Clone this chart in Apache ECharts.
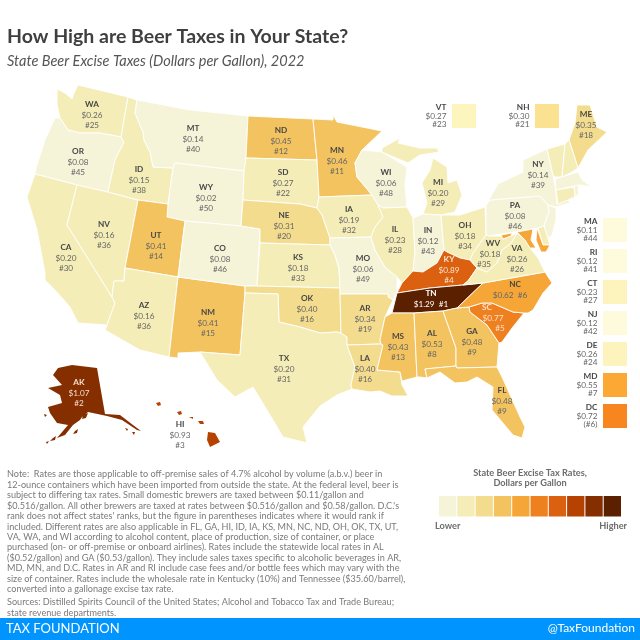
<!DOCTYPE html>
<html><head><meta charset="utf-8">
<style>html,body{margin:0;padding:0;background:#fff}#c{width:640px;height:640px}</style>
<script src="https://cdn.jsdelivr.net/npm/echarts@6/dist/echarts.min.js"></script>
</head><body><div id="c"></div>
<script>
const stateNames = ['WA','OR','CA','NV','ID','MT','WY','UT','AZ','NM','CO','ND','SD','NE','KS','OK','TX','MN','IA','MO','AR','LA','WI','IL','MI','IN','OH','KY','TN','MS','AL','GA','FL','SC','NC','VA','WV','PA','NY','ME','VT','NH','MA','RI','CT','NJ','DE','MD','AK','HI'];
const stateValues = [0.26,0.08,0.20,0.16,0.15,0.14,0.02,0.41,0.16,0.41,0.08,0.45,0.27,0.31,0.18,0.40,0.20,0.46,0.19,0.06,0.34,0.40,0.06,0.23,0.20,0.12,0.18,0.89,1.29,0.43,0.53,0.48,0.48,0.77,0.62,0.26,0.18,0.08,0.14,0.35,0.27,0.30,0.11,0.12,0.23,0.12,0.26,0.55,1.07,0.93];
const stateRanks = ['#25','#45','#30','#36','#38','#40','#50','#14','#36','#15','#46','#12','#22','#20','#33','#16','#31','#11','#32','#49','#19','#16','#48','#28','#29','#43','#34','#4','#1','#13','#8','#9','#9','#5','#6','#26','#35','#46','#39','#18','#23','#21','#44','#41','#27','#42','#24','#7','#2','#3'];
const boxNames = ['VT','NH','MA','RI','CT','NJ','DE','MD','DC'];
const boxValues = [0.27,0.30,0.11,0.12,0.23,0.12,0.26,0.55,0.72];
const boxRanks = ['#23','#21','#44','#41','#27','#42','#24','#7','(#6)'];
const boxColors = ['#FDF5BE','#FBE290','#FEFBDD','#FEFBDD','#FDF3BC','#FEFBDD','#FDF3BC','#FBA835','#F8861F'];
const legendBreaks = [0,0.14,0.30,0.40,0.54,0.70,0.85,0.90,1.00,1.20,1.40];
const legendColors = ['#F5F4D9','#F5EDB7','#F4DC8F','#F3C35F','#F5A637','#EF8020','#DB6010','#B54200','#852F00','#5A2000'];
const noteLines = [
"Note:  Rates are those applicable to off-premise sales of 4.7% alcohol by volume (a.b.v.) beer in",
"12-ounce containers which have been imported from outside the state. At the federal level, beer is",
"subject to differing tax rates. Small domestic brewers are taxed between $0.11/gallon and",
"$0.516/gallon. All other brewers are taxed at rates between $0.516/gallon and $0.58/gallon. D.C.'s",
"rank does not affect states' ranks, but the figure in parentheses indicates where it would rank if",
"included. Different rates are also applicable in FL, GA, HI, ID, IA, KS, MN, NC, ND, OH, OK, TX, UT,",
"VA, WA, and WI according to alcohol content, place of production, size of container, or place",
"purchased (on- or off-premise or onboard airlines). Rates include the statewide local rates in AL",
"($0.52/gallon) and GA ($0.53/gallon). They include sales taxes specific to alcoholic beverages in AR,",
"MD, MN, and D.C. Rates in AR and RI include case fees and/or bottle fees which may vary with the",
"size of container. Rates include the wholesale rate in Kentucky (10%) and Tennessee ($35.60/barrel),",
"converted into a gallonage excise tax rate."];
const sourceLines = [
"Sources: Distilled Spirits Council of the United States; Alcohol and Tobacco Tax and Trade Bureau;",
"state revenue departments."];

// simplified state outlines (map geometry, in the map's own plane)
const shapes = {
WA:[[[57,89],[65,93],[72,99],[74,93],[78,85],[128,97],[121,137],[100,133],[80,133],[68,130],[60,118],[57,105]]],
OR:[[[60,118],[68,130],[80,133],[100,133],[121,137],[124,142],[115,160],[108,192],[77,185],[35,174],[36,168],[45,140],[55,118]]],
CA:[[[35,174],[77,185],[67,225],[112,297],[115,303],[107,325],[78,323],[70,307],[55,290],[45,280],[45,273],[37,230],[27,197]]],
NV:[[[77,185],[108,192],[138,200],[125,268],[124,281],[114,281],[112,297],[67,225]]],
ID:[[[128,97],[137,100],[135,113],[143,132],[144,140],[150,152],[153,167],[173,168],[168,204],[138,200],[108,192],[115,160],[124,142],[121,137]]],
MT:[[[137,100],[190,110],[248,116],[246,158],[244,171],[175,163],[173,168],[153,167],[150,152],[144,140],[143,132],[135,113]]],
WY:[[[175,163],[244,171],[243,200],[241,226],[185,221],[167,217],[168,204],[173,168]]],
UT:[[[138,200],[168,204],[167,217],[185,221],[178,277],[125,268]]],
AZ:[[[125,268],[178,277],[169,357],[140,350],[105,330],[107,325],[115,303],[112,297],[114,281],[124,281]]],
NM:[[[178,277],[245,286],[245,293],[240,355],[200,352],[178,353],[178,358],[169,357]]],
CO:[[[185,221],[241,226],[260,229],[257,286],[245,286],[178,277]]],
ND:[[[248,116],[313,119],[317,160],[246,158]]],
SD:[[[246,158],[317,160],[319,197],[317,208],[300,204],[243,200],[244,171]]],
NE:[[[243,200],[300,204],[317,208],[322,215],[330,238],[330,245],[260,243],[260,229],[241,226]]],
KS:[[[260,243],[330,245],[335,255],[339,268],[340,288],[257,286]]],
OK:[[[245,286],[257,286],[340,288],[341,333],[337,332],[320,333],[300,327],[279,322],[278,294],[245,293]]],
TX:[[[245,293],[278,294],[279,322],[300,327],[320,333],[337,332],[341,333],[347,337],[347,345],[355,367],[351,385],[352,389],[337,395],[320,406],[303,427],[307,443],[283,437],[273,420],[253,387],[235,397],[217,380],[200,352],[240,355]]],
MN:[[[313,119],[333,120],[333,115],[337,122],[382,131],[362,150],[355,163],[357,177],[372,195],[319,197],[317,160]]],
IA:[[[319,197],[372,195],[378,205],[383,217],[375,227],[371,237],[330,238],[322,215],[317,208]]],
MO:[[[330,238],[371,237],[375,250],[385,267],[397,277],[397,293],[393,300],[388,297],[388,294],[340,294],[340,288],[339,268],[335,255],[330,245]]],
AR:[[[340,294],[388,294],[388,297],[393,300],[385,317],[380,340],[381,344],[347,345],[347,337],[341,333]]],
LA:[[[347,345],[381,344],[383,345],[377,370],[400,372],[402,385],[408,396],[392,396],[380,391],[370,392],[352,389],[351,385],[355,367]]],
MS:[[[385,317],[392,313],[414,313],[417,377],[402,381],[400,372],[377,370],[383,345],[381,344],[380,340]]],
AL:[[[414,313],[443,311],[456,348],[456,366],[425,369],[427,378],[420,377],[417,377]]],
GA:[[[443,311],[457,308],[469,307],[470,312],[487,325],[499,343],[497,367],[457,368],[456,366],[456,348]]],
FL:[[[425,369],[456,366],[457,368],[497,367],[502,377],[520,417],[525,427],[522,438],[513,435],[492,410],[493,387],[477,377],[467,382],[455,383],[440,372],[427,378]]],
SC:[[[469,307],[482,303],[492,303],[513,312],[524,313],[512,328],[502,342],[499,343],[487,325],[470,312]]],
NC:[[[457,308],[483,283],[545,272],[552,283],[543,293],[533,310],[528,313],[524,313],[513,312],[492,303],[482,303],[469,307]]],
TN:[[[397,293],[392,313],[414,313],[443,311],[457,308],[483,283],[463,285],[430,288]]],
KY:[[[397,293],[402,283],[413,271],[423,272],[437,263],[444,250],[447,252],[460,258],[470,260],[477,268],[468,281],[463,285],[430,288]]],
IL:[[[383,208],[407,207],[413,218],[415,253],[413,271],[402,283],[397,277],[385,267],[375,250],[371,237],[375,227],[383,217],[378,205]]],
WI:[[[355,163],[362,150],[382,152],[407,167],[405,185],[407,207],[383,208],[378,205],[372,195],[357,177]]],
MI:[[[[382,148],[400,138],[398,143],[420,148],[437,148],[439,152],[420,155],[408,163],[382,152]]],[[[433,158],[447,167],[448,183],[457,180],[462,195],[455,212],[441,215],[423,214],[427,203],[422,183],[430,170]]]],
IN:[[[413,218],[423,214],[441,215],[444,250],[437,263],[423,272],[413,271],[415,253]]],
OH:[[[441,215],[460,215],[485,207],[486,235],[473,253],[470,260],[460,258],[447,252],[444,250]]],
PA:[[[486,205],[490,200],[540,196],[548,205],[549,212],[544,226],[538,228],[489,236],[486,235]]],
NY:[[[486,205],[498,184],[523,172],[523,160],[547,149],[553,175],[556,192],[557,204],[568,199],[570,203],[556,207],[548,205],[540,196],[490,200]]],
NJ:[[[549,212],[548,205],[556,208],[556,220],[552,235],[546,240],[544,226]]],
DE:[[[544,226],[550,245],[543,245],[538,228]]],
MD:[[[[501,235],[512,233],[511,236],[503,239]]],[[[517,232],[533,229],[531,240],[536,248],[530,248],[525,240]]],[[[537,228],[543,245],[550,245],[546,252],[541,252],[536,240]]]],
VA:[[[468,281],[477,268],[487,272],[497,263],[502,250],[511,243],[517,233],[525,240],[530,248],[538,258],[545,272],[483,283],[463,285]]],
WV:[[[486,235],[489,236],[501,236],[503,239],[511,236],[517,233],[511,243],[502,250],[497,263],[487,272],[477,268],[470,260],[473,253]]],
VT:[[[547,149],[565,144],[562,177],[555,177],[553,175]]],
NH:[[[565,144],[569,140],[578,168],[572,172],[562,177]]],
ME:[[[577,105],[590,105],[597,127],[607,132],[588,150],[578,168],[569,140],[575,123]]],
MA:[[[555,179],[578,172],[582,180],[592,187],[580,185],[574,186],[556,190]]],
CT:[[[556,190],[574,187],[575,197],[558,204]]],
RI:[[[574,186],[578,185],[579,194],[575,197]]],
AK:[[[[53,375],[58,368],[72,365],[97,368],[105,414],[120,415],[133,425],[141,431],[137,430],[122,420],[107,416],[88,412],[82,417],[80,420],[73,425],[65,435],[57,438],[68,425],[57,423],[50,413],[48,407],[62,403],[60,395],[48,388],[62,385]]],[[[53,438],[56,436],[55,440],[50,441]]],[[[46,442],[49,441],[47,444]]],[[[75,431],[78,429],[77,433],[73,434]]],[[[125,428],[128,429],[127,431]]],[[[132,432],[135,432],[134,435]]],[[[37,396],[40,398],[39,399]]],[[[44,414],[47,415],[45,417]]],[[[83,415],[88,413],[86,418],[82,419]]]],
HI:[[[[208,432],[215,433],[220,442],[210,447],[207,440]]],[[[177,412],[181,411],[182,414],[179,415]]],[[[156,403],[160,402],[161,405],[158,406]]],[[[198,421],[203,421],[204,424],[200,424]]],[[[189,417],[193,417],[193,419]]]]
};
const labelAt = {WA:[92,115],OR:[78,162],CA:[66,258],NV:[104,235],ID:[139,180],MT:[193,139],WY:[206,198],UT:[156,246],AZ:[144,316],NM:[208,323],CO:[220,259],ND:[281,141],SD:[283,183],NE:[284,226],KS:[298,268],OK:[307,309],TX:[284,369],MN:[337,161],IA:[349,220],MO:[363,269],AR:[365,319],LA:[365,369],WI:[386,183],IL:[395,240],MI:[438,193],IN:[428,241],OH:[465,236],KY:[449,270],TN:[431,299],MS:[398,347],AL:[432,344],GA:[472,342],FL:[502,401],SC:[493,318],NC:[510,290],VA:[517,259],WV:[490,254],PA:[515,216],NY:[538,175],ME:[586,125],AK:[79,393],HI:[180,435]};
const boxRects = {VT:[452,104],NH:[535,104],MA:[603,218],RI:[603,249],CT:[603,280],NJ:[603,311],DE:[603,342],MD:[603,373],DC:[603,404]};
const boxSize = 24;

const poly = c => c.length && Array.isArray(c[0][0][0]) ? {type:'MultiPolygon',coordinates:c.map(p=>p.map(closeRing))} : {type:'Polygon',coordinates:c.map(closeRing)};
function closeRing(r){return r.concat([r[0]]);}
const features = stateNames.map(n=>({type:'Feature',properties:{name:n,cp:labelAt[n]||shapes[n][0][0]},geometry:poly(shapes[n])}));
boxNames.forEach(n=>{const [x,y]=boxRects[n];features.push({type:'Feature',properties:{name:'box '+n,cp:[x-16,y+boxSize/2]},geometry:{type:'Polygon',coordinates:[[[x,y],[x+boxSize,y],[x+boxSize,y+boxSize],[x,y+boxSize],[x,y]]]}});});
echarts.registerMap('us',{type:'FeatureCollection',features});

const money=v=>'$'+v.toFixed(2);
const small=new Set(['VT','NH','MA','RI','CT','NJ','DE','MD']);
const lightLabel={KY:'#F9E3CC',SC:'#F9E3CC',AK:'#F3DFD0',TN:'#FFFFFF'};
const richFor=(dark,fn,lh,al)=>({
  n:{fontFamily:'Lato',fontSize:8.2,fontWeight:'bold',color:dark||'#484848',lineHeight:lh,align:al},
  v:{fontFamily:'Lato',fontSize:8.2,color:dark||'#666666',lineHeight:lh,align:al},
  a:{fontFamily:'Lato',fontSize:8.2,color:dark||'#666666',lineHeight:lh,padding:fn&&fn.a||0},
  b:{fontFamily:'Lato',fontSize:8.2,color:dark||'#666666',lineHeight:lh,padding:fn&&fn.b||0},
  c:{fontFamily:'Lato',fontSize:8.2,fontWeight:'bold',color:dark||'#484848',lineHeight:lh,padding:fn&&fn.c||0}
});
const stagger={SC:{c:[0,12,0,0],a:0,b:[0,0,0,14]},WV:{c:[0,0,0,6],a:0,b:[0,12,0,0]}};
const stateData=stateNames.map((n,i)=>{
  const dark=lightLabel[n];
  const item={name:n,value:stateValues[i]};
  let f;
  if(small.has(n)) f='';
  else if(n==='TN') f=`{n|TN}\n{v|${money(stateValues[i])}  ${stateRanks[i]}}`;
  else if(n==='NC') f=`{c|NC}\n{v|${money(stateValues[i])}  ${stateRanks[i]}}`;
  else if(stagger[n]) f=`{c|${n}}\n{a|${money(stateValues[i])}}\n{b|${stateRanks[i]}}`;
  else f=`{n|${n}}\n{v|${money(stateValues[i])}}\n{v|${stateRanks[i]}}`;
  const st=n==='NC'?{c:[0,0,0,10]}:stagger[n];
  item.label={show:!small.has(n),formatter:f,rich:richFor(dark,st,10.3)};
  if(n==='AK'||n==='HI') item.itemStyle={borderWidth:0};
  return item;
});
const boxData=boxNames.map((n,i)=>({
  name:'box '+n,value:boxValues[i],visualMap:false,
  itemStyle:{color:boxColors[i],areaColor:boxColors[i],borderWidth:0},
  label:{show:true,align:'right',formatter:`{n|${n}}\n{v|${money(boxValues[i])}}\n{v|${boxRanks[i]}}`,rich:richFor(null,null,8.4,'right')}
}));

const grey='#7A7A7A';
const txt=(x,y,text,s)=>({type:'text',x,y,style:Object.assign({x:0,y:0,text,fontFamily:'Lato',fill:grey,fontSize:9.1},s)});
const chart=echarts.init(document.getElementById('c'),null,{renderer:'canvas'});
chart.setOption({
  animation:false,backgroundColor:'#fff',
  title:[
    {text:'How High are Beer Taxes in Your State?',left:7,top:27,padding:0,textStyle:{fontFamily:'Lato',fontSize:19.5,fontWeight:'bold',color:'#3F3F3F'}},
    {text:'State Beer Excise Taxes (Dollars per Gallon), 2022',left:7,top:54,padding:0,textStyle:{fontFamily:'Lato',fontSize:14.5,fontStyle:'italic',fontWeight:'normal',color:'#555555'}}
  ],
  visualMap:{type:'piecewise',seriesIndex:0,orient:'horizontal',left:439,top:496,padding:0,itemWidth:17.3,itemHeight:20.5,itemGap:1,showLabel:false,selectedMode:false,hoverLink:false,itemSymbol:'rect',
    pieces:legendColors.map((c,i)=>({min:legendBreaks[i],max:legendBreaks[i+1],color:c}))},
  series:[{type:'map',map:'us',projection:{project:p=>p,unproject:p=>p},boundingCoords:[[0,0],[640,640]],left:0,top:0,width:640,height:640,silent:true,selectedMode:false,
    itemStyle:{borderColor:'#fff',borderWidth:0.9},emphasis:{disabled:true},
    label:{show:true},data:stateData.concat(boxData)}],
  graphic:[
    {type:'rect',shape:{x:0,y:618,width:640,height:22},style:{fill:'#0094FF'},silent:true},
    txt(6,622,'TAX FOUNDATION',{fill:'#fff',fontSize:13,textVerticalAlign:'top'}),
    txt(635,622,'@TaxFoundation',{fill:'#fff',fontSize:12,textAlign:'right',textVerticalAlign:'top'}),
    txt(530,469,'State Beer Excise Tax Rates,',{fontWeight:'bold',fontSize:9.2,fill:'#6C6C6C',textAlign:'center'}),
    txt(530,479,'Dollars per Gallon',{fontWeight:'bold',fontSize:9.2,fill:'#6C6C6C',textAlign:'center'}),
    txt(435,522,'Lower',{fontWeight:'bold',fontSize:9.2,fill:'#6C6C6C'}),
    txt(627,522,'Higher',{fontWeight:'bold',fontSize:9.2,fill:'#6C6C6C',textAlign:'right'})
  ].concat(noteLines.map((l,i)=>txt(7,470+i*10.42,l,{}))).concat(sourceLines.map((l,i)=>txt(7,598+i*10.6,l,{})))
});
</script></body></html>
